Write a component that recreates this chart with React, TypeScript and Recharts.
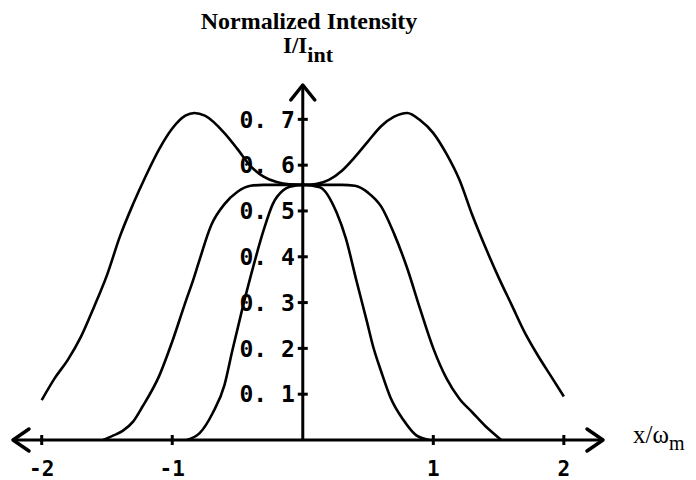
import { LineChart, Line, XAxis, YAxis, ReferenceLine, ReferenceDot } from "recharts";

// widest curve (two humps)
const wideX = [-2, -1.9, -1.8, -1.7, -1.6, -1.5, -1.4, -1.3, -1.2, -1.1, -1, -0.9, -0.83, -0.75, -0.6, -0.5, -0.4, -0.3, -0.2, -0.1, 0,
  0.1, 0.2, 0.3, 0.4, 0.5, 0.6, 0.7, 0.8, 0.9, 1, 1.1, 1.2, 1.3, 1.4, 1.5, 1.6, 1.7, 1.8, 1.9, 2];
const wideY = [0.087, 0.135, 0.175, 0.225, 0.29, 0.36, 0.445, 0.515, 0.578, 0.635, 0.68, 0.708, 0.714, 0.708, 0.67, 0.635, 0.598, 0.575, 0.563, 0.558, 0.557,
  0.559, 0.568, 0.588, 0.618, 0.652, 0.685, 0.706, 0.714, 0.698, 0.67, 0.625, 0.568, 0.49, 0.42, 0.355, 0.295, 0.235, 0.185, 0.14, 0.095];

// middle curve (flat top)
const midX = [-1.53, -1.45, -1.38, -1.3, -1.23, -1.1, -1, -0.9, -0.84, -0.8, -0.7, -0.6, -0.5, -0.4, -0.3, 0,
  0.3, 0.4, 0.5, 0.6, 0.7, 0.8, 0.9, 1, 1.1, 1.2, 1.3, 1.4, 1.48, 1.52];
const midY = [0, 0.01, 0.02, 0.04, 0.072, 0.14, 0.215, 0.3, 0.349, 0.385, 0.47, 0.515, 0.542, 0.555, 0.557, 0.557,
  0.557, 0.555, 0.54, 0.51, 0.45, 0.375, 0.285, 0.2, 0.135, 0.09, 0.06, 0.03, 0.01, 0];

// narrowest curve
const narrowX = [-0.89, -0.79, -0.69, -0.6, -0.54, -0.46, -0.38, -0.3, -0.23, -0.15, -0.1, 0,
  0.13, 0.26, 0.33, 0.41, 0.49, 0.54, 0.6, 0.67, 0.77, 0.87, 0.97];
const narrowY = [0, 0.015, 0.059, 0.12, 0.195, 0.29, 0.378, 0.458, 0.515, 0.545, 0.553, 0.557,
  0.552, 0.496, 0.44, 0.349, 0.26, 0.203, 0.15, 0.094, 0.044, 0.01, 0];

const xTicks = [-2, -1, 1, 2];
const yTicks = [0.1, 0.2, 0.3, 0.4, 0.5, 0.6, 0.7];
const xMin = -2.22;
const xMax = 2.3;
const yMax = 0.775;

const toPoints = (xs: number[], ys: number[]) => xs.map((x, i) => ({ x, y: ys[i] }));

const mono = "'DejaVu Sans Mono', monospace";
const serif = "'Liberation Serif', 'Times New Roman', serif";

function XTick({ x, y, payload }: any) {
  return (
    <g>
      <line x1={x} x2={x} y1={y - 5} y2={y + 5} stroke="#000" strokeWidth={3} />
      <text x={x} y={y + 36} textAnchor="middle" fontFamily={mono} fontWeight="bold" fontSize={21} fill="#000">
        {payload.value}
      </text>
    </g>
  );
}

const yTickShape = (label: string) => (props: any) => (
  <g>
    <line x1={props.cx - 5} x2={props.cx + 5} y1={props.cy} y2={props.cy} stroke="#000" strokeWidth={3} />
    <text x={props.cx - 8} y={props.cy} dy="0.36em" textAnchor="end" fontFamily={mono} fontWeight="bold" fontSize={23} fill="#000">
      {label}
    </text>
  </g>
);

const arrow = (dir: "up" | "left" | "right") => (props: any) => {
  const { cx, cy } = props;
  let d = "";
  if (dir === "up") d = `M${cx - 12},${cy + 15} L${cx},${cy} L${cx + 12},${cy + 15}`;
  if (dir === "left") d = `M${cx + 16},${cy - 11} L${cx},${cy} L${cx + 16},${cy + 11}`;
  if (dir === "right") d = `M${cx - 16},${cy - 11} L${cx},${cy} L${cx - 16},${cy + 11}`;
  return <path d={d} fill="none" stroke="#000" strokeWidth={3.5} strokeLinecap="round" strokeLinejoin="round" />;
};

export default function App() {
  return (
    <div style={{ position: "absolute", left: 0, top: 0, width: 696, height: 480, background: "#fff" }}>
      <LineChart width={696} height={480} margin={{ top: 85, right: 93, bottom: 0, left: 13 }}>
        <XAxis
          type="number"
          dataKey="x"
          domain={[xMin, xMax]}
          ticks={xTicks}
          allowDataOverflow
          height={40}
          tickSize={0}
          tickMargin={0}
          tickLine={false}
          axisLine={{ stroke: "#000", strokeWidth: 3 }}
          tick={<XTick />}
        />
        <YAxis type="number" domain={[0, yMax]} allowDataOverflow hide width={0} />
        <ReferenceLine x={0} stroke="#000" strokeWidth={3} ifOverflow="visible" />
        {yTicks.map((v) => (
          <ReferenceDot
            key={v}
            x={0}
            y={v}
            ifOverflow="visible"
            shape={yTickShape(v.toFixed(1).replace(".", ". "))}
          />
        ))}
        <ReferenceDot x={0} y={yMax} ifOverflow="visible" shape={arrow("up")} />
        <ReferenceDot x={xMin} y={0} ifOverflow="visible" shape={arrow("left")} />
        <ReferenceDot x={xMax} y={0} ifOverflow="visible" shape={arrow("right")} />
        <Line data={toPoints(wideX, wideY)} dataKey="y" type="monotone" stroke="#000" strokeWidth={2.6} dot={false} isAnimationActive={false} />
        <Line data={toPoints(midX, midY)} dataKey="y" type="monotone" stroke="#000" strokeWidth={2.6} dot={false} isAnimationActive={false} />
        <Line data={toPoints(narrowX, narrowY)} dataKey="y" type="monotone" stroke="#000" strokeWidth={2.6} dot={false} isAnimationActive={false} />
      </LineChart>
      <svg width={696} height={480} style={{ position: "absolute", left: 0, top: 0, pointerEvents: "none" }}>
        <text x={309} y={29} textAnchor="middle" fontFamily={serif} fontWeight="bold" fontSize={24} fill="#000">
          Normalized Intensity
        </text>
        <text x={283} y={53} fontFamily={serif} fontWeight="bold" fontSize={23} fill="#000">
          I/I
          <tspan dy={9} fontSize={22}>int</tspan>
        </text>
        <text x={633} y={443} fontFamily={serif} fontSize={25} fill="#000">
          x/ω
          <tspan dy={7} fontSize={20}>m</tspan>
        </text>
      </svg>
    </div>
  );
}
